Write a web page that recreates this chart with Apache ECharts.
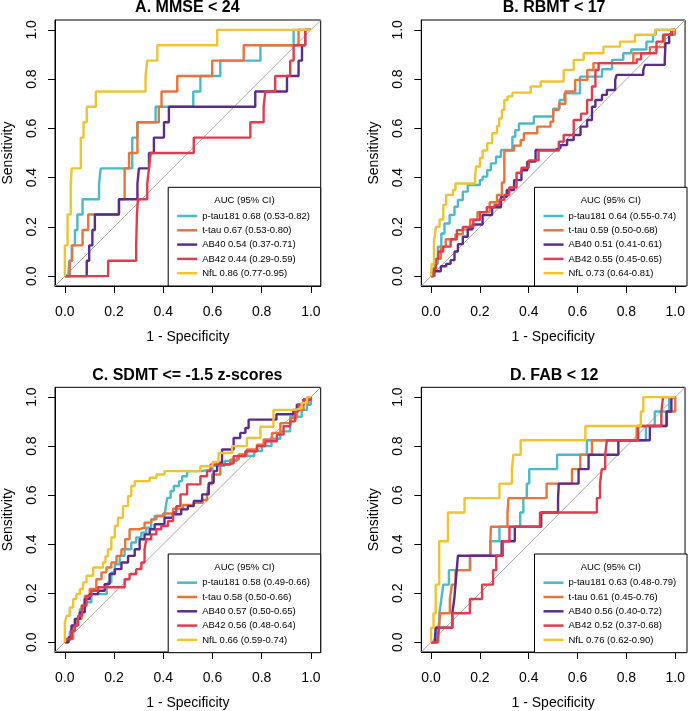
<!DOCTYPE html>
<html>
<head>
<meta charset="utf-8">
<script src="https://cdn.jsdelivr.net/npm/echarts@6/dist/echarts.min.js"></script>
<style>
  html, body { margin: 0; padding: 0; background: #fff; }
  #chart { width: 688px; height: 711px; }
</style>
</head>
<body>
<div id="chart"></div>
<script>
// tick positions shared by every axis
const ticks = [0, 0.2, 0.4, 0.6, 0.8, 1];
const markers = ['p-tau181', 't-tau', 'AB40', 'AB42', 'NfL'];
const panelTitles = ['A. MMSE < 24', 'B. RBMT < 17', 'C. SDMT <= -1.5 z-scores', 'D. FAB < 12'];

// AUC (95% CI) per panel, same order as markers
const mmseAuc = ['0.68 (0.53-0.82)', '0.67 (0.53-0.80)', '0.54 (0.37-0.71)', '0.44 (0.29-0.59)', '0.86 (0.77-0.95)'];
const rbmtAuc = ['0.64 (0.55-0.74)', '0.59 (0.50-0.68)', '0.51 (0.41-0.61)', '0.55 (0.45-0.65)', '0.73 (0.64-0.81)'];
const sdmtAuc = ['0.58 (0.49-0.66)', '0.58 (0.50-0.66)', '0.57 (0.50-0.65)', '0.56 (0.48-0.64)', '0.66 (0.59-0.74)'];
const fabAuc = ['0.63 (0.48-0.79)', '0.61 (0.45-0.76)', '0.56 (0.40-0.72)', '0.52 (0.37-0.68)', '0.76 (0.62-0.90)'];

// ROC points [1 - specificity, sensitivity], step goes right then up
// A. MMSE < 24
const mmsePtau = [[0,0],[0.014,0],[0.018,0.0625],[0.028,0.125],[0.041,0.1875],[0.051,0.25],[0.072,0.3125],[0.139,0.375],[0.146,0.4375],[0.274,0.5625],[0.295,0.625],[0.369,0.6875],[0.522,0.75],[0.551,0.8125],[0.632,0.875],[0.795,0.9375],[0.93,1],[1,1]];
const mmseTtau = [[0,0],[0.02,0.0625],[0.03,0.125],[0.072,0.1875],[0.095,0.25],[0.22,0.3125],[0.243,0.4375],[0.261,0.5],[0.295,0.625],[0.382,0.6875],[0.393,0.75],[0.457,0.8125],[0.599,0.875],[0.727,0.9375],[0.95,1],[1,1]];
const mmseAb40 = [[0,0],[0.089,0.0625],[0.099,0.125],[0.112,0.1875],[0.122,0.25],[0.22,0.3125],[0.295,0.375],[0.301,0.4375],[0.342,0.5],[0.362,0.5625],[0.403,0.625],[0.423,0.6875],[0.774,0.75],[0.903,0.8125],[0.95,0.875],[0.964,0.9375],[0.977,1],[1,1]];
const mmseAb42 = [[0,0],[0.176,0.0625],[0.29,0.125],[0.293,0.25],[0.297,0.3125],[0.335,0.375],[0.342,0.4375],[0.349,0.5],[0.524,0.5625],[0.754,0.625],[0.808,0.6875],[0.815,0.75],[0.855,0.8125],[0.916,0.875],[0.93,0.9375],[0.977,1],[1,1]];
const mmseNfl = [[0,0],[0,0.125],[0.011,0.25],[0.024,0.375],[0.028,0.4375],[0.065,0.5625],[0.076,0.625],[0.089,0.6875],[0.126,0.75],[0.328,0.8125],[0.335,0.875],[0.376,0.9375],[0.619,1],[1,1]];

// B. RBMT < 17
const rbmtPtau = [[0,0],[0.015,0.05],[0.028,0.12],[0.042,0.173],[0.055,0.214],[0.076,0.248],[0.096,0.282],[0.11,0.309],[0.13,0.343],[0.15,0.37],[0.2,0.39],[0.211,0.404],[0.23,0.43],[0.245,0.458],[0.266,0.485],[0.286,0.512],[0.333,0.566],[0.345,0.593],[0.36,0.62],[0.421,0.648],[0.5,0.68],[0.526,0.715],[0.546,0.742],[0.61,0.81],[0.7,0.84],[0.741,0.878],[0.787,0.905],[0.82,0.92],[0.882,0.952],[0.909,0.98],[0.92,1],[1,1]];
const rbmtTtau = [[0,0],[0.01,0.03],[0.02,0.07],[0.04,0.12],[0.06,0.15],[0.1,0.17],[0.13,0.19],[0.16,0.23],[0.19,0.26],[0.24,0.3],[0.27,0.33],[0.29,0.38],[0.3,0.51],[0.34,0.53],[0.367,0.553],[0.38,0.58],[0.435,0.607],[0.489,0.627],[0.5,0.675],[0.524,0.7],[0.55,0.75],[0.59,0.797],[0.64,0.837],[0.665,0.865],[0.828,0.905],[0.896,0.93],[0.957,0.98],[0.998,1],[1,1]];
const rbmtAb40 = [[0,0],[0.01,0.02],[0.04,0.04],[0.062,0.05],[0.08,0.065],[0.096,0.1],[0.11,0.13],[0.13,0.16],[0.15,0.19],[0.17,0.21],[0.211,0.248],[0.25,0.28],[0.286,0.322],[0.31,0.35],[0.34,0.39],[0.37,0.43],[0.394,0.465],[0.428,0.512],[0.503,0.52],[0.53,0.532],[0.557,0.553],[0.584,0.573],[0.612,0.607],[0.639,0.634],[0.659,0.688],[0.673,0.715],[0.7,0.736],[0.72,0.756],[0.754,0.797],[0.76,0.817],[0.869,0.837],[0.876,0.858],[0.957,0.88],[0.96,0.946],[0.975,0.98],[0.985,1],[1,1]];
const rbmtAb42 = [[0,0],[0.01,0.03],[0.02,0.07],[0.03,0.1],[0.05,0.12],[0.08,0.15],[0.106,0.187],[0.13,0.2],[0.173,0.228],[0.2,0.26],[0.228,0.28],[0.26,0.29],[0.28,0.31],[0.3,0.33],[0.32,0.36],[0.35,0.42],[0.37,0.44],[0.4,0.47],[0.44,0.51],[0.51,0.51],[0.523,0.546],[0.543,0.573],[0.584,0.634],[0.614,0.66],[0.639,0.715],[0.659,0.77],[0.673,0.837],[0.686,0.865],[0.842,0.88],[0.86,0.905],[0.923,0.952],[0.95,0.98],[0.984,1],[1,1]];
const rbmtNfl = [[0,0],[0.003,0.05],[0.012,0.14],[0.02,0.2],[0.035,0.23],[0.05,0.29],[0.062,0.33],[0.09,0.35],[0.1,0.376],[0.18,0.4],[0.184,0.445],[0.2,0.48],[0.211,0.51],[0.23,0.54],[0.25,0.58],[0.27,0.61],[0.279,0.64],[0.29,0.675],[0.3,0.715],[0.313,0.73],[0.333,0.745],[0.408,0.77],[0.449,0.79],[0.543,0.837],[0.584,0.878],[0.625,0.905],[0.706,0.932],[0.774,0.952],[0.835,0.98],[0.917,1],[1,1]];

// C. SDMT <= -1.5 z-scores
const sdmtPtau = [[0,0],[0.007,0.007],[0.02,0.04],[0.027,0.054],[0.041,0.095],[0.061,0.135],[0.081,0.163],[0.108,0.196],[0.17,0.22],[0.175,0.244],[0.189,0.285],[0.203,0.318],[0.223,0.352],[0.243,0.379],[0.27,0.407],[0.29,0.427],[0.311,0.447],[0.331,0.467],[0.351,0.501],[0.365,0.515],[0.405,0.521],[0.41,0.55],[0.416,0.589],[0.43,0.617],[0.443,0.637],[0.464,0.657],[0.477,0.677],[0.497,0.698],[0.551,0.704],[0.6,0.72],[0.65,0.74],[0.7,0.76],[0.77,0.78],[0.801,0.8],[0.84,0.83],[0.876,0.86],[0.916,0.92],[0.963,0.948],[0.984,0.969],[1,1]];
const sdmtTtau = [[0,0],[0.013,0.013],[0.034,0.068],[0.047,0.095],[0.068,0.149],[0.081,0.189],[0.101,0.217],[0.128,0.257],[0.149,0.285],[0.169,0.305],[0.189,0.325],[0.21,0.352],[0.23,0.379],[0.245,0.42],[0.263,0.461],[0.304,0.467],[0.324,0.488],[0.351,0.501],[0.372,0.515],[0.4,0.525],[0.44,0.545],[0.48,0.56],[0.524,0.569],[0.56,0.58],[0.578,0.603],[0.585,0.644],[0.599,0.684],[0.632,0.725],[0.673,0.745],[0.707,0.766],[0.74,0.786],[0.781,0.806],[0.808,0.827],[0.842,0.854],[0.876,0.894],[0.916,0.915],[0.943,0.948],[0.97,0.976],[0.99,0.996],[1,1]];
const sdmtAb40 = [[0,0],[0.015,0.02],[0.027,0.068],[0.041,0.095],[0.061,0.122],[0.081,0.176],[0.101,0.196],[0.135,0.21],[0.162,0.237],[0.182,0.278],[0.203,0.298],[0.23,0.325],[0.257,0.352],[0.284,0.379],[0.304,0.42],[0.324,0.44],[0.345,0.461],[0.365,0.481],[0.405,0.508],[0.439,0.522],[0.473,0.542],[0.5,0.555],[0.524,0.576],[0.558,0.603],[0.585,0.65],[0.605,0.698],[0.619,0.732],[0.639,0.786],[0.686,0.833],[0.713,0.854],[0.734,0.874],[0.747,0.908],[0.822,0.908],[0.86,0.93],[0.929,0.948],[0.943,0.969],[0.97,0.99],[1,1]];
const sdmtAb42 = [[0,0],[0.007,0.013],[0.027,0.047],[0.041,0.068],[0.054,0.108],[0.07,0.15],[0.088,0.189],[0.108,0.21],[0.135,0.224],[0.23,0.224],[0.243,0.257],[0.263,0.278],[0.29,0.298],[0.311,0.325],[0.324,0.379],[0.331,0.42],[0.351,0.44],[0.372,0.461],[0.392,0.474],[0.419,0.494],[0.44,0.53],[0.453,0.555],[0.47,0.603],[0.497,0.644],[0.551,0.677],[0.578,0.698],[0.592,0.725],[0.66,0.73],[0.686,0.759],[0.734,0.779],[0.781,0.8],[0.815,0.82],[0.862,0.847],[0.889,0.881],[0.916,0.901],[0.936,0.942],[0.95,0.969],[0.97,0.99],[1,1]];
const sdmtNfl = [[0,0],[0,0.08],[0.007,0.108],[0.02,0.142],[0.034,0.176],[0.047,0.196],[0.061,0.217],[0.074,0.244],[0.088,0.271],[0.115,0.305],[0.155,0.325],[0.165,0.35],[0.175,0.379],[0.189,0.427],[0.203,0.474],[0.216,0.508],[0.236,0.555],[0.257,0.596],[0.27,0.637],[0.284,0.657],[0.345,0.671],[0.372,0.684],[0.405,0.698],[0.53,0.698],[0.551,0.718],[0.6,0.735],[0.625,0.772],[0.68,0.8],[0.74,0.833],[0.795,0.879],[0.848,0.948],[0.936,0.955],[0.963,0.976],[0.984,1],[1,1]];

// D. FAB < 12
const fabPtau = [[0,0],[0.006,0],[0.02,0.059],[0.034,0.118],[0.042,0.176],[0.05,0.235],[0.073,0.294],[0.159,0.353],[0.243,0.412],[0.28,0.471],[0.365,0.529],[0.378,0.588],[0.392,0.647],[0.402,0.706],[0.516,0.765],[0.638,0.824],[0.88,0.882],[0.916,0.941],[0.975,1],[1,1]];
const fabTtau = [[0,0],[0.01,0],[0.03,0.059],[0.038,0.118],[0.077,0.176],[0.085,0.235],[0.1,0.294],[0.16,0.353],[0.243,0.412],[0.245,0.471],[0.313,0.529],[0.317,0.588],[0.473,0.647],[0.577,0.706],[0.611,0.765],[0.659,0.824],[0.842,0.882],[0.963,0.941],[1,1]];
const fabAb40 = [[0,0],[0.015,0],[0.019,0.059],[0.087,0.118],[0.095,0.176],[0.1,0.235],[0.105,0.294],[0.11,0.353],[0.289,0.412],[0.343,0.471],[0.451,0.529],[0.52,0.588],[0.523,0.647],[0.604,0.706],[0.645,0.765],[0.767,0.824],[0.896,0.882],[0.965,0.941],[0.984,1],[1,1]];
const fabAb42 = [[0,0],[0.025,0],[0.033,0.059],[0.087,0.118],[0.159,0.176],[0.209,0.235],[0.254,0.294],[0.267,0.353],[0.294,0.412],[0.321,0.471],[0.446,0.529],[0.659,0.529],[0.679,0.588],[0.692,0.647],[0.699,0.706],[0.713,0.765],[0.72,0.824],[0.848,0.882],[0.943,0.941],[0.95,1],[1,1]];
const fabNfl = [[0,0],[0,0.059],[0.01,0.118],[0.019,0.235],[0.033,0.412],[0.069,0.529],[0.137,0.588],[0.28,0.647],[0.331,0.706],[0.337,0.765],[0.367,0.824],[0.632,0.882],[0.859,0.941],[0.869,1],[1,1]];

const colors = ['#4bb9c8', '#e8733c', '#5a2d8c', '#e03c50', '#f0c332'];
const fontFamily = '"Liberation Sans", Arial, Helvetica, sans-serif';

// panel placement (px)
const panels = [
    { title: panelTitles[0], auc: mmseAuc, curves: [mmsePtau, mmseTtau, mmseAb40, mmseAb42, mmseNfl], left: 54, top: 20, width: 266.7, height: 266 },
    { title: panelTitles[1], auc: rbmtAuc, curves: [rbmtPtau, rbmtTtau, rbmtAb40, rbmtAb42, rbmtNfl], left: 421.3, top: 20, width: 265.7, height: 266 },
    { title: panelTitles[2], auc: sdmtAuc, curves: [sdmtPtau, sdmtTtau, sdmtAb40, sdmtAb42, sdmtNfl], left: 54, top: 387.3, width: 266.7, height: 265.4 },
    { title: panelTitles[3], auc: fabAuc, curves: [fabPtau, fabTtau, fabAb40, fabAb42, fabNfl], left: 421.3, top: 387.3, width: 265.7, height: 265.4 }
];

const grid = [], xAxis = [], yAxis = [], series = [], legend = [], graphic = [];

panels.forEach((p, i) => {
    grid.push({
        left: p.left, top: p.top, width: p.width, height: p.height,
        show: true, borderColor: '#000', borderWidth: 1, backgroundColor: 'transparent'
    });

    const axisBase = {
        type: 'value', gridIndex: i, min: -0.04, max: 1.04,
        nameLocation: 'middle',
        nameTextStyle: { fontSize: 14, color: '#000', fontFamily: fontFamily },
        axisLine: { show: true, onZero: false, lineStyle: { color: '#000', width: 1 } },
        axisTick: { show: true, inside: false, length: 7, customValues: ticks, lineStyle: { color: '#000' } },
        splitLine: { show: false }
    };
    xAxis.push(Object.assign({}, axisBase, {
        name: '1 - Specificity', nameGap: 44,
        axisLabel: { customValues: ticks, formatter: v => v.toFixed(1), fontSize: 14, color: '#000', margin: 19, fontFamily: fontFamily }
    }));
    yAxis.push(Object.assign({}, axisBase, {
        name: 'Sensitivity', nameGap: 40,
        axisLabel: { customValues: ticks, formatter: v => v.toFixed(1), rotate: 90, fontSize: 14, color: '#000', margin: 16, fontFamily: fontFamily }
    }));

    // chance line
    series.push({
        type: 'line', xAxisIndex: i, yAxisIndex: i, silent: true,
        data: [[-0.04, -0.04], [1.04, 1.04]], showSymbol: false,
        lineStyle: { color: '#a8a8a8', width: 1 }
    });

    const names = [];
    p.curves.forEach((c, k) => {
        const name = markers[k] + ' ' + p.auc[k];
        names.push(name);
        series.push({
            name: name, type: 'line', xAxisIndex: i, yAxisIndex: i,
            data: c, step: 'end', showSymbol: false, symbol: 'none',
            color: colors[k],
            lineStyle: { color: colors[k], width: 2.4 }
        });
    });

    // legend box in bottom-right corner
    const boxW = 152.5, boxH = 98.7;
    const boxLeft = p.left + p.width - boxW;
    const boxTop = p.top + p.height - boxH;
    graphic.push({
        type: 'rect', z: 3,
        shape: { x: boxLeft, y: boxTop, width: boxW, height: boxH },
        style: { fill: '#fff', stroke: '#000', lineWidth: 1 }
    });
    graphic.push({
        type: 'text', z: 5, x: boxLeft + boxW / 2, y: boxTop + 13,
        style: { text: 'AUC (95% CI)', fontSize: 9.5, fontFamily: fontFamily, fill: '#000', align: 'center', verticalAlign: 'middle' }
    });
    legend.push({
        left: boxLeft + 9, top: boxTop + 22.7, orient: 'vertical',
        icon: 'rect', itemWidth: 20, itemHeight: 2.5, itemGap: 2.3, padding: 0,
        selectedMode: false,
        textStyle: { fontSize: 9.5, lineHeight: 12, color: '#000', fontFamily: fontFamily },
        data: names
    });

    // panel title
    graphic.push({
        type: 'text', z: 5, x: p.left + p.width / 2, y: p.top - 12,
        style: { text: p.title, fontSize: 16, fontWeight: 'bold', fontFamily: fontFamily, fill: '#000', align: 'center', verticalAlign: 'middle' }
    });
});

const chart = echarts.init(document.getElementById('chart'));
chart.setOption({
    animation: false,
    textStyle: { fontFamily: fontFamily },
    grid: grid,
    xAxis: xAxis,
    yAxis: yAxis,
    legend: legend,
    graphic: graphic,
    series: series
});
</script>
</body>
</html>
